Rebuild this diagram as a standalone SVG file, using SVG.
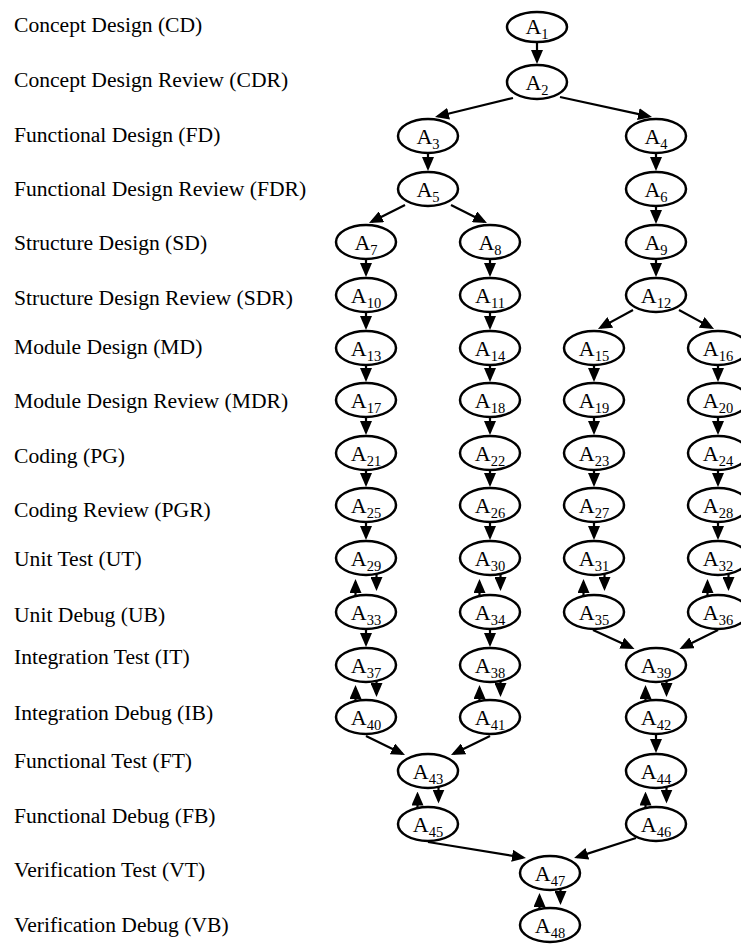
<svg xmlns="http://www.w3.org/2000/svg" width="741" height="944" viewBox="0 0 741 944">
  <style>
    .lbl { font-family: "Liberation Serif", "Times New Roman", serif; font-size: 21.6px; fill: #000; }
    .nd ellipse { fill: #fff; stroke: #000; stroke-width: 2.5; }
    .nd text { font-family: "Liberation Serif", "Times New Roman", serif; font-size: 22px; fill: #000; text-anchor: middle; }
    .nd tspan { font-size: 14.5px; }
    .cn path { fill: none; stroke: #000; stroke-width: 2.2; marker-end: url(#ah); }
  </style>
  <defs>
    <marker id="ah" markerUnits="userSpaceOnUse" markerWidth="14" markerHeight="12" refX="11" refY="6" orient="auto">
      <path d="M0,0 L14,6 L0,12 z" fill="#000"/>
    </marker>
  </defs>
  <rect width="741" height="944" fill="#fff"/>

  <!-- phase labels -->
  <g id="labels" class="lbl">
    <text x="14" y="32">Concept Design (CD)</text>
    <text x="14" y="87">Concept Design Review (CDR)</text>
    <text x="14" y="142">Functional Design (FD)</text>
    <text x="14" y="196">Functional Design Review (FDR)</text>
    <text x="14" y="250">Structure Design (SD)</text>
    <text x="14" y="305">Structure Design Review (SDR)</text>
    <text x="14" y="354">Module Design (MD)</text>
    <text x="14" y="408">Module Design Review (MDR)</text>
    <text x="14" y="463">Coding (PG)</text>
    <text x="14" y="517">Coding Review (PGR)</text>
    <text x="14" y="566">Unit Test (UT)</text>
    <text x="14" y="622">Unit Debug (UB)</text>
    <text x="14" y="664">Integration Test (IT)</text>
    <text x="14" y="720">Integration Debug (IB)</text>
    <text x="14" y="768">Functional Test (FT)</text>
    <text x="14" y="823">Functional Debug (FB)</text>
    <text x="14" y="877">Verification Test (VT)</text>
    <text x="14" y="932">Verification Debug (VB)</text>
  </g>

  <!-- connectors -->
  <g id="connectors" class="cn">
    <!-- single downward links -->
    <path d="M537,42 V61"/>
    <path d="M428,153 V168"/>
    <path d="M656,153 V168"/>
    <path d="M656,206 V221"/>
    <path d="M656,259 V274"/>
    <path d="M366,259 V274"/>
    <path d="M490,259 V274"/>
    <path d="M366,312 V327"/>
    <path d="M490,312 V327"/>
    <path d="M366,365 V379"/>
    <path d="M490,365 V379"/>
    <path d="M594,365 V379"/>
    <path d="M718,365 V379"/>
    <path d="M366,417 V432"/>
    <path d="M490,417 V432"/>
    <path d="M594,417 V432"/>
    <path d="M718,417 V432"/>
    <path d="M366,470 V484"/>
    <path d="M490,470 V484"/>
    <path d="M594,470 V484"/>
    <path d="M718,470 V484"/>
    <path d="M366,522 V537"/>
    <path d="M490,522 V537"/>
    <path d="M594,522 V537"/>
    <path d="M718,522 V537"/>
    <path d="M366,629 V644"/>
    <path d="M490,629 V644"/>
    <path d="M656,734 V750"/>

    <!-- branching and merging links -->
    <path d="M513,98 L437.9,116.3"/>
    <path d="M560,97 L649.1,116.4"/>
    <path d="M405,205 L371.7,221.7"/>
    <path d="M451,205 L484.3,221.7"/>
    <path d="M633,310 L600.6,327.6"/>
    <path d="M679,310 L711.4,327.6"/>
    <path d="M593,630 L631.8,647.7"/>
    <path d="M718,630 L682.2,647.7"/>
    <path d="M366,736 L402.3,753.7"/>
    <path d="M490,736 L453.7,753.7"/>
    <path d="M428,842 L523,857.5"/>
    <path d="M636,838 L576.9,857.1"/>

    <!-- test / debug loops: up on the left, down on the right -->
    <path d="M355.5,596 V582"/><path d="M376.5,574 V588"/>
    <path d="M479.5,596 V582"/><path d="M500.5,574 V588"/>
    <path d="M583.5,596 V582"/><path d="M604.5,574 V588"/>
    <path d="M707.5,596 V582"/><path d="M728.5,574 V588"/>

    <path d="M355.5,701 V688"/><path d="M376.5,681 V694"/>
    <path d="M479.5,701 V688"/><path d="M500.5,681 V694"/>
    <path d="M645.5,701 V688"/><path d="M666.5,681 V694"/>

    <path d="M417.5,808 V794.5"/><path d="M438.5,787 V800.5"/>
    <path d="M645.5,808 V794.5"/><path d="M666.5,787 V800.5"/>

    <path d="M539.5,909 V896"/><path d="M560.5,889 V902"/>
  </g>

  <!-- activity nodes -->
  <g id="nodes" class="nd">
    <g id="A1"><ellipse cx="537" cy="27" rx="30" ry="15"/><text x="537" y="34">A<tspan dy="5">1</tspan></text></g>
    <g id="A2"><ellipse cx="537" cy="82" rx="30" ry="17"/><text x="537" y="90">A<tspan dy="5">2</tspan></text></g>
    <g id="A3"><ellipse cx="428" cy="136" rx="30" ry="17"/><text x="428" y="144">A<tspan dy="5">3</tspan></text></g>
    <g id="A4"><ellipse cx="656" cy="136" rx="30" ry="17"/><text x="656" y="144">A<tspan dy="5">4</tspan></text></g>
    <g id="A5"><ellipse cx="428" cy="189" rx="30" ry="17"/><text x="428" y="197">A<tspan dy="5">5</tspan></text></g>
    <g id="A6"><ellipse cx="656" cy="189" rx="30" ry="17"/><text x="656" y="197">A<tspan dy="5">6</tspan></text></g>
    <g id="A7"><ellipse cx="366" cy="242" rx="30" ry="17"/><text x="366" y="250">A<tspan dy="5">7</tspan></text></g>
    <g id="A8"><ellipse cx="490" cy="242" rx="30" ry="17"/><text x="490" y="250">A<tspan dy="5">8</tspan></text></g>
    <g id="A9"><ellipse cx="656" cy="242" rx="30" ry="17"/><text x="656" y="250">A<tspan dy="5">9</tspan></text></g>
    <g id="A10"><ellipse cx="366" cy="295" rx="30" ry="17"/><text x="366" y="303">A<tspan dy="5">10</tspan></text></g>
    <g id="A11"><ellipse cx="490" cy="295" rx="30" ry="17"/><text x="490" y="303">A<tspan dy="5">11</tspan></text></g>
    <g id="A12"><ellipse cx="656" cy="295" rx="30" ry="17"/><text x="656" y="303">A<tspan dy="5">12</tspan></text></g>
    <g id="A13"><ellipse cx="366" cy="348" rx="30" ry="17"/><text x="366" y="356">A<tspan dy="5">13</tspan></text></g>
    <g id="A14"><ellipse cx="490" cy="348" rx="30" ry="17"/><text x="490" y="356">A<tspan dy="5">14</tspan></text></g>
    <g id="A15"><ellipse cx="594" cy="348" rx="30" ry="17"/><text x="594" y="356">A<tspan dy="5">15</tspan></text></g>
    <g id="A16"><ellipse cx="718" cy="348" rx="30" ry="17"/><text x="718" y="356">A<tspan dy="5">16</tspan></text></g>
    <g id="A17"><ellipse cx="366" cy="400" rx="30" ry="17"/><text x="366" y="408">A<tspan dy="5">17</tspan></text></g>
    <g id="A18"><ellipse cx="490" cy="400" rx="30" ry="17"/><text x="490" y="408">A<tspan dy="5">18</tspan></text></g>
    <g id="A19"><ellipse cx="594" cy="400" rx="30" ry="17"/><text x="594" y="408">A<tspan dy="5">19</tspan></text></g>
    <g id="A20"><ellipse cx="718" cy="400" rx="30" ry="17"/><text x="718" y="408">A<tspan dy="5">20</tspan></text></g>
    <g id="A21"><ellipse cx="366" cy="453" rx="30" ry="17"/><text x="366" y="461">A<tspan dy="5">21</tspan></text></g>
    <g id="A22"><ellipse cx="490" cy="453" rx="30" ry="17"/><text x="490" y="461">A<tspan dy="5">22</tspan></text></g>
    <g id="A23"><ellipse cx="594" cy="453" rx="30" ry="17"/><text x="594" y="461">A<tspan dy="5">23</tspan></text></g>
    <g id="A24"><ellipse cx="718" cy="453" rx="30" ry="17"/><text x="718" y="461">A<tspan dy="5">24</tspan></text></g>
    <g id="A25"><ellipse cx="366" cy="505" rx="30" ry="17"/><text x="366" y="513">A<tspan dy="5">25</tspan></text></g>
    <g id="A26"><ellipse cx="490" cy="505" rx="30" ry="17"/><text x="490" y="513">A<tspan dy="5">26</tspan></text></g>
    <g id="A27"><ellipse cx="594" cy="505" rx="30" ry="17"/><text x="594" y="513">A<tspan dy="5">27</tspan></text></g>
    <g id="A28"><ellipse cx="718" cy="505" rx="30" ry="17"/><text x="718" y="513">A<tspan dy="5">28</tspan></text></g>
    <g id="A29"><ellipse cx="366" cy="558" rx="30" ry="17"/><text x="366" y="566">A<tspan dy="5">29</tspan></text></g>
    <g id="A30"><ellipse cx="490" cy="558" rx="30" ry="17"/><text x="490" y="566">A<tspan dy="5">30</tspan></text></g>
    <g id="A31"><ellipse cx="594" cy="558" rx="30" ry="17"/><text x="594" y="566">A<tspan dy="5">31</tspan></text></g>
    <g id="A32"><ellipse cx="718" cy="558" rx="30" ry="17"/><text x="718" y="566">A<tspan dy="5">32</tspan></text></g>
    <g id="A33"><ellipse cx="366" cy="612" rx="30" ry="17"/><text x="366" y="620">A<tspan dy="5">33</tspan></text></g>
    <g id="A34"><ellipse cx="490" cy="612" rx="30" ry="17"/><text x="490" y="620">A<tspan dy="5">34</tspan></text></g>
    <g id="A35"><ellipse cx="594" cy="612" rx="30" ry="17"/><text x="594" y="620">A<tspan dy="5">35</tspan></text></g>
    <g id="A36"><ellipse cx="718" cy="612" rx="30" ry="17"/><text x="718" y="620">A<tspan dy="5">36</tspan></text></g>
    <g id="A37"><ellipse cx="366" cy="665" rx="30" ry="17"/><text x="366" y="673">A<tspan dy="5">37</tspan></text></g>
    <g id="A38"><ellipse cx="490" cy="665" rx="30" ry="17"/><text x="490" y="673">A<tspan dy="5">38</tspan></text></g>
    <g id="A39"><ellipse cx="656" cy="665" rx="30" ry="17"/><text x="656" y="673">A<tspan dy="5">39</tspan></text></g>
    <g id="A40"><ellipse cx="366" cy="717" rx="30" ry="17"/><text x="366" y="725">A<tspan dy="5">40</tspan></text></g>
    <g id="A41"><ellipse cx="490" cy="717" rx="30" ry="17"/><text x="490" y="725">A<tspan dy="5">41</tspan></text></g>
    <g id="A42"><ellipse cx="656" cy="717" rx="30" ry="17"/><text x="656" y="725">A<tspan dy="5">42</tspan></text></g>
    <g id="A43"><ellipse cx="428" cy="771" rx="30" ry="17"/><text x="428" y="779">A<tspan dy="5">43</tspan></text></g>
    <g id="A44"><ellipse cx="656" cy="771" rx="30" ry="17"/><text x="656" y="779">A<tspan dy="5">44</tspan></text></g>
    <g id="A45"><ellipse cx="428" cy="824" rx="30" ry="17"/><text x="428" y="832">A<tspan dy="5">45</tspan></text></g>
    <g id="A46"><ellipse cx="656" cy="824" rx="30" ry="17"/><text x="656" y="832">A<tspan dy="5">46</tspan></text></g>
    <g id="A47"><ellipse cx="550" cy="873" rx="30" ry="17"/><text x="550" y="881">A<tspan dy="5">47</tspan></text></g>
    <g id="A48"><ellipse cx="550" cy="925" rx="30" ry="17"/><text x="550" y="933">A<tspan dy="5">48</tspan></text></g>
  </g>
</svg>
